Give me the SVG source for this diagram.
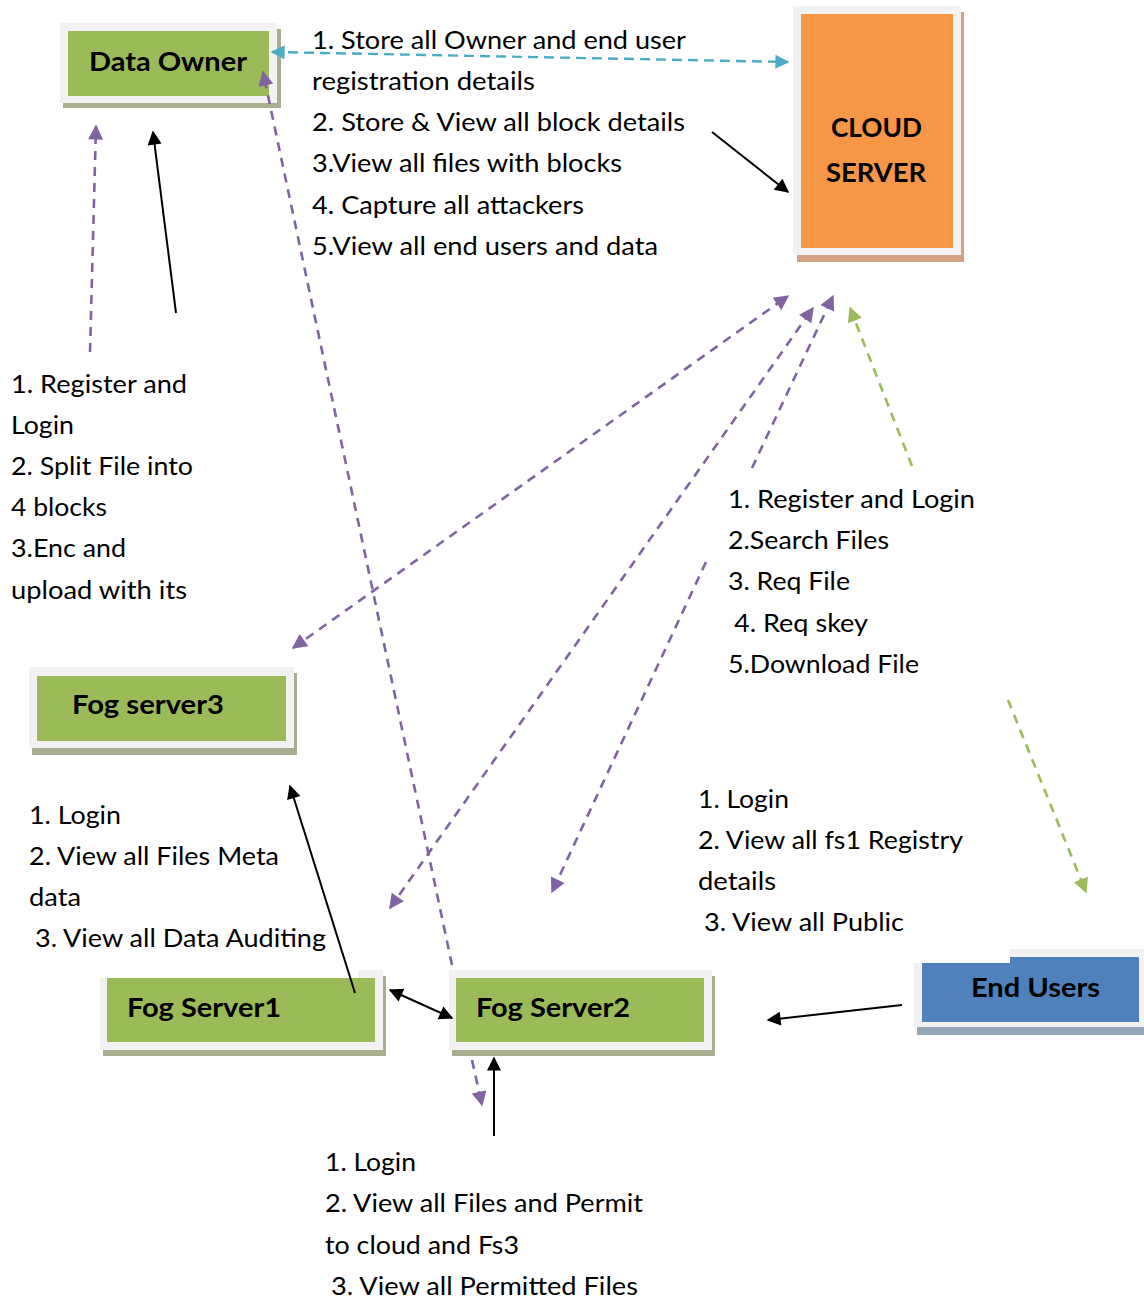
<svg xmlns="http://www.w3.org/2000/svg" width="1144" height="1304" viewBox="0 0 1144 1304">
<defs>
<style>
.t{font-family:Lato,"Open Sans","Liberation Sans",sans-serif;font-size:25px;fill:#000}
.b{font-family:Lato,"Open Sans","Liberation Sans",sans-serif;font-size:27px;font-weight:bold;fill:#000}
.pu{stroke:#8064a2;stroke-width:2.6;stroke-dasharray:9,7;fill:none}
.gr{stroke:#9bbb59;stroke-width:2.6;stroke-dasharray:9,7;fill:none}
.cy{stroke:#4bacc6;stroke-width:2.4;stroke-dasharray:10,6;fill:none}
.bk{stroke:#000;stroke-width:2;fill:none}
.outer{fill:#f2f2f2}
.gsh{fill:#a9ae90}
.green{fill:#9bbb59}
</style>
<marker id="mp" viewBox="0 0 10 10" refX="9" refY="5" markerWidth="17" markerHeight="15" markerUnits="userSpaceOnUse" orient="auto-start-reverse"><path d="M0,0 L10,5 L0,10 z" fill="#8064a2"/></marker>
<marker id="mg" viewBox="0 0 10 10" refX="9" refY="5" markerWidth="17" markerHeight="15" markerUnits="userSpaceOnUse" orient="auto-start-reverse"><path d="M0,0 L10,5 L0,10 z" fill="#9bbb59"/></marker>
<marker id="mc" viewBox="0 0 10 10" refX="9" refY="5" markerWidth="16" markerHeight="14" markerUnits="userSpaceOnUse" orient="auto-start-reverse"><path d="M0,0 L10,5 L0,10 z" fill="#4bacc6"/></marker>
<marker id="mb" viewBox="0 0 10 10" refX="9" refY="5" markerWidth="18" markerHeight="14" markerUnits="userSpaceOnUse" orient="auto-start-reverse"><path d="M0,0 L10,5 L0,10 z" fill="#000"/></marker>
</defs>
<rect width="1144" height="1304" fill="#fff"/>

<g id="data-owner">
<rect x="63" y="29" width="218" height="79" class="gsh"/>
<rect x="60" y="23" width="217" height="80" class="outer"/>
<rect x="68" y="31" width="201" height="65" class="green"/>
<text x="89" y="71" class="b" textLength="158" lengthAdjust="spacingAndGlyphs">Data Owner</text>
</g>

<g id="cloud-server">
<rect x="797" y="12" width="167" height="250" fill="#d3a283"/>
<rect x="793" y="6" width="168" height="249" class="outer"/>
<rect x="801" y="14" width="152" height="234" fill="#f79646"/>
<text x="831" y="137" class="b" textLength="91" lengthAdjust="spacingAndGlyphs">CLOUD</text>
<text x="826" y="182" class="b" textLength="100" lengthAdjust="spacingAndGlyphs">SERVER</text>
</g>

<g id="fog-server3">
<rect x="32" y="673" width="265" height="82" class="gsh"/>
<rect x="29" y="667" width="265" height="81" class="outer"/>
<rect x="37" y="676" width="249" height="65" class="green"/>
<text x="72" y="714" class="b" textLength="152" lengthAdjust="spacingAndGlyphs">Fog server3</text>
</g>

<g id="fog-server1">
<rect x="103" y="976" width="283" height="80" class="gsh"/>
<rect x="100" y="970" width="283" height="80" class="outer"/>
<rect x="95" y="962" width="263" height="16" fill="#fff"/>
<rect x="107" y="978" width="268" height="64" class="green"/>
<text x="127" y="1017" class="b" textLength="154" lengthAdjust="spacingAndGlyphs">Fog Server1</text>
</g>

<g id="fog-server2">
<rect x="452" y="976" width="263" height="80" class="gsh"/>
<rect x="449" y="970" width="263" height="80" class="outer"/>
<rect x="456" y="978" width="248" height="64" class="green"/>
<text x="476" y="1017" class="b" textLength="154" lengthAdjust="spacingAndGlyphs">Fog Server2</text>
</g>

<g id="end-users">
<rect x="917" y="955" width="230" height="80" fill="#96a5ba"/>
<rect x="914" y="949" width="232" height="78" class="outer"/>
<rect x="922" y="957" width="217" height="65" fill="#4f81bd"/>
<rect x="905" y="940" width="105" height="23" fill="#fff"/>
<text x="971" y="997" class="b" textLength="129" lengthAdjust="spacingAndGlyphs">End Users</text>
</g>

<g id="connectors">
<line x1="272" y1="52" x2="788" y2="62" class="cy" marker-start="url(#mc)" marker-end="url(#mc)"/>
<line x1="712" y1="132" x2="788" y2="192" class="bk" marker-end="url(#mb)"/>
<line x1="90" y1="352" x2="96" y2="126" class="pu" marker-end="url(#mp)"/>
<line x1="176" y1="313" x2="153" y2="132" class="bk" marker-end="url(#mb)"/>
<line x1="452" y1="965" x2="263" y2="72" class="pu" marker-end="url(#mp)"/>
<line x1="472" y1="1060" x2="482" y2="1105" class="pu" marker-end="url(#mp)"/>
<line x1="293" y1="648" x2="788" y2="296" class="pu" marker-start="url(#mp)" marker-end="url(#mp)"/>
<line x1="390" y1="908" x2="813" y2="308" class="pu" marker-start="url(#mp)" marker-end="url(#mp)"/>
<line x1="752" y1="468" x2="833" y2="296" class="pu" marker-end="url(#mp)"/>
<line x1="706" y1="562" x2="552" y2="892" class="pu" marker-end="url(#mp)"/>
<line x1="912" y1="466" x2="850" y2="308" class="gr" marker-end="url(#mg)"/>
<line x1="1008" y1="700" x2="1086" y2="892" class="gr" marker-end="url(#mg)"/>
<line x1="355" y1="993" x2="290" y2="786" class="bk" marker-end="url(#mb)"/>
<line x1="390" y1="990" x2="452" y2="1018" class="bk" marker-start="url(#mb)" marker-end="url(#mb)"/>
<line x1="902" y1="1005" x2="768" y2="1020" class="bk" marker-end="url(#mb)"/>
<line x1="494" y1="1136" x2="494" y2="1058" class="bk" marker-end="url(#mb)"/>
</g>

<g id="labels">
<text x="312" y="49" class="t" textLength="374" lengthAdjust="spacingAndGlyphs">1. Store all Owner and end user</text>
<text x="312" y="90" class="t" textLength="223" lengthAdjust="spacingAndGlyphs">registration details</text>
<text x="312" y="131" class="t" textLength="373" lengthAdjust="spacingAndGlyphs">2. Store &amp; View all block details</text>
<text x="312" y="172" class="t" textLength="310" lengthAdjust="spacingAndGlyphs">3.View all files with blocks</text>
<text x="312" y="214" class="t" textLength="272" lengthAdjust="spacingAndGlyphs">4. Capture all attackers</text>
<text x="312" y="255" class="t" textLength="346" lengthAdjust="spacingAndGlyphs">5.View all end users and data</text>

<text x="11" y="393" class="t" textLength="176" lengthAdjust="spacingAndGlyphs">1. Register and</text>
<text x="11" y="434" class="t" textLength="63" lengthAdjust="spacingAndGlyphs">Login</text>
<text x="11" y="475" class="t" textLength="182" lengthAdjust="spacingAndGlyphs">2. Split File into</text>
<text x="11" y="516" class="t" textLength="96" lengthAdjust="spacingAndGlyphs">4 blocks</text>
<text x="11" y="557" class="t" textLength="115" lengthAdjust="spacingAndGlyphs">3.Enc and</text>
<text x="11" y="599" class="t" textLength="176" lengthAdjust="spacingAndGlyphs">upload with its</text>

<text x="728" y="508" class="t" textLength="247" lengthAdjust="spacingAndGlyphs">1. Register and Login</text>
<text x="728" y="549" class="t" textLength="161" lengthAdjust="spacingAndGlyphs">2.Search Files</text>
<text x="728" y="590" class="t" textLength="122" lengthAdjust="spacingAndGlyphs">3. Req File</text>
<text x="734" y="632" class="t" textLength="134" lengthAdjust="spacingAndGlyphs">4. Req skey</text>
<text x="728" y="673" class="t" textLength="191" lengthAdjust="spacingAndGlyphs">5.Download File</text>

<text x="29" y="824" class="t" textLength="92" lengthAdjust="spacingAndGlyphs">1. Login</text>
<text x="29" y="865" class="t" textLength="250" lengthAdjust="spacingAndGlyphs">2. View all Files Meta</text>
<text x="29" y="906" class="t" textLength="52" lengthAdjust="spacingAndGlyphs">data</text>
<text x="35" y="947" class="t" textLength="291" lengthAdjust="spacingAndGlyphs">3. View all Data Auditing</text>

<text x="698" y="808" class="t" textLength="91" lengthAdjust="spacingAndGlyphs">1. Login</text>
<text x="698" y="849" class="t" textLength="265" lengthAdjust="spacingAndGlyphs">2. View all fs1 Registry</text>
<text x="698" y="890" class="t" textLength="78" lengthAdjust="spacingAndGlyphs">details</text>
<text x="704" y="931" class="t" textLength="200" lengthAdjust="spacingAndGlyphs">3. View all Public</text>

<text x="325" y="1171" class="t" textLength="91" lengthAdjust="spacingAndGlyphs">1. Login</text>
<text x="325" y="1212" class="t" textLength="318" lengthAdjust="spacingAndGlyphs">2. View all Files and Permit</text>
<text x="325" y="1254" class="t" textLength="194" lengthAdjust="spacingAndGlyphs">to cloud and Fs3</text>
<text x="331" y="1295" class="t" textLength="307" lengthAdjust="spacingAndGlyphs">3. View all Permitted Files</text>
</g>
</svg>
